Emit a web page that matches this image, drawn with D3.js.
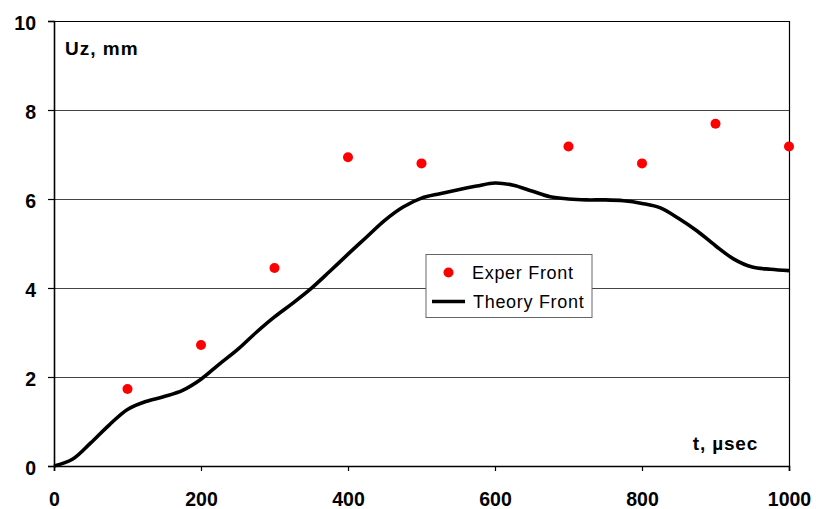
<!DOCTYPE html>
<html><head><meta charset="utf-8">
<script src="https://cdn.jsdelivr.net/npm/d3@7/dist/d3.min.js"></script>
<style>body{margin:0;background:#fff}svg{display:block;font-family:"Liberation Sans",Arial,sans-serif}</style>
</head><body><svg id="c" width="816" height="509"></svg>
<script>
const xTicks = [0,200,400,600,800,1000];
const yTicks = [0,2,4,6,8,10];
const experT = [100,200,300,400,500,700,800,900,1000];
const experU = [1.73,2.72,4.45,6.94,6.80,7.18,6.80,7.69,7.18];
const theoryT = [0,25,50,75,100,125,150,175,200,225,250,275,300,325,350,375,400,425,450,475,500,525,550,575,600,625,650,675,700,725,750,775,800,825,850,875,900,925,950,975,1000];
const theoryU = [0,0.15,0.52,0.92,1.27,1.45,1.56,1.70,1.95,2.29,2.62,3.00,3.35,3.66,3.99,4.37,4.76,5.14,5.52,5.82,6.02,6.12,6.21,6.29,6.36,6.31,6.18,6.05,6.00,5.98,5.98,5.96,5.90,5.80,5.56,5.28,4.95,4.65,4.47,4.42,4.39];
const legendLabels = ["Exper Front","Theory Front"];

const svg = d3.select("#c");
const L=54, R=789, T=21, B=466;
const x = d3.scaleLinear().domain([0,1000]).range([L,R]);
const y = d3.scaleLinear().domain([0,10]).range([B,T]);

// gridlines
svg.append("g").selectAll("line").data(yTicks.filter(d=>d>0)).join("line")
  .attr("x1",L).attr("x2",R).attr("y1",d=>Math.round(y(d))+0.5).attr("y2",d=>Math.round(y(d))+0.5)
  .attr("stroke",d=>d===10?"#000":"#444").attr("stroke-width",1);
// right border
svg.append("line").attr("x1",R+0.5).attr("x2",R+0.5).attr("y1",T).attr("y2",B).attr("stroke","#000").attr("stroke-width",1.2);

// axes
const yAxis = d3.axisLeft(y).tickValues(yTicks).tickSize(6).tickPadding(12).tickFormat(d3.format("d"));
const gy = svg.append("g").attr("transform",`translate(${L},0)`).call(yAxis);
const xAxis = d3.axisBottom(x).tickValues(xTicks).tickSize(5).tickPadding(21).tickFormat(d3.format("d"));
const gx = svg.append("g").attr("transform",`translate(0,${B})`).call(xAxis);
[gx,gy].forEach(g=>{
  g.select(".domain").attr("stroke","#000").attr("stroke-width",1.6);
  g.selectAll(".tick line").attr("stroke","#000").attr("stroke-width",1.2);
  g.selectAll(".tick text").attr("fill","#000").style("font-size","19.5px").style("font-weight","bold").style("font-family","'Liberation Sans',Arial,sans-serif");
});
gy.selectAll(".tick text").attr("dy","0.42em");

// theory line
const line = d3.line().x((d,i)=>x(theoryT[i])).y(d=>y(d)).curve(d3.curveCatmullRom);
svg.append("path").datum(theoryU).attr("d",line).attr("fill","none").attr("stroke","#000").attr("stroke-width",3.6).attr("stroke-linejoin","round");

// exper points
svg.append("g").selectAll("circle").data(experU).join("circle")
  .attr("cx",(d,i)=>x(experT[i])).attr("cy",d=>y(d)).attr("r",5).attr("fill","#ff0000");

// axis titles
svg.append("text").attr("x",65).attr("y",55).text("Uz, mm").style("font-size","19px").style("letter-spacing","1px").style("font-weight","bold");
svg.append("text").attr("x",758).attr("y",450).attr("text-anchor","end").text("t, µsec").style("font-size","19px").style("letter-spacing","0.8px").style("font-weight","bold");

// legend
const lg = svg.append("g");
lg.append("rect").attr("x",426).attr("y",254.5).attr("width",166).attr("height",63).attr("fill","#fff").attr("stroke","#666").attr("stroke-width",1);
lg.append("circle").attr("cx",448.5).attr("cy",272.5).attr("r",5).attr("fill","#ff0000");
lg.append("line").attr("x1",432).attr("x2",465).attr("y1",301.5).attr("y2",301.5).attr("stroke","#000").attr("stroke-width",3.6);
lg.selectAll("text").data(legendLabels).join("text")
  .attr("x",(d,i)=>i===0?472:473).attr("y",(d,i)=>i===0?278.5:308)
  .text(d=>d).style("font-size","18px").style("letter-spacing","0.7px");
</script></body></html>
